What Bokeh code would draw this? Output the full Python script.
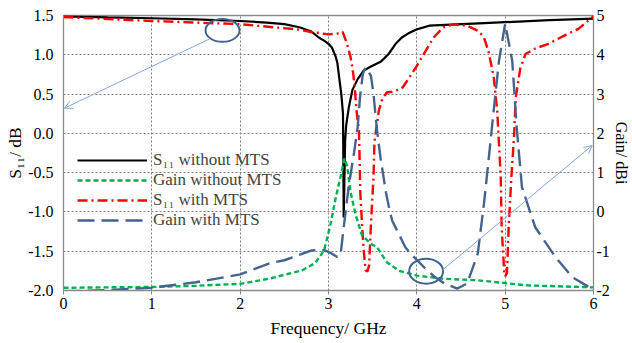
import math
from bokeh.plotting import figure
from bokeh.models import (Range1d, LinearAxis, Legend, LegendItem, Arrow, OpenHead,
                          FixedTicker, PrintfTickFormatter)
from bokeh.embed import file_html
from bokeh.resources import INLINE

# ---------------- data ----------------
x_ticks = [0, 1, 2, 3, 4, 5, 6]
s11_ticks = [-2.0, -1.5, -1.0, -0.5, 0.0, 0.5, 1.0, 1.5]
gain_ticks = [-2, -1, 0, 1, 2, 3, 4, 5]

# S11 without MTS (dB)
s11_no_f = [0, 0.5, 1, 1.5, 2, 2.3, 2.5, 2.67, 2.8, 2.89, 2.95, 3.0, 3.04, 3.08, 3.10,
            3.12, 3.145, 3.164, 3.168, 3.172, 3.18, 3.188, 3.20, 3.23, 3.27, 3.33, 3.40,
            3.48, 3.59, 3.68, 3.76, 3.83, 3.90, 3.99, 4.14, 4.38, 4.7, 5.0, 5.5, 6.0]
s11_no_v = [1.49, 1.475, 1.465, 1.45, 1.43, 1.41, 1.39, 1.35, 1.30, 1.22, 1.18, 1.14, 1.09,
            0.98, 0.90, 0.72, 0.50, 0.25, -0.30, -1.07, -0.60, -0.10, 0.10, 0.33, 0.55, 0.69,
            0.80, 0.85, 0.91, 1.01, 1.14, 1.22, 1.27, 1.32, 1.37, 1.385, 1.40, 1.415, 1.44,
            1.46]

# Gain without MTS (dBi)
gain_no_f = [0, 0.5, 1, 1.5, 2, 2.33, 2.5, 2.7, 2.85, 2.95, 3.02, 3.08, 3.14, 3.18, 3.21,
             3.25, 3.31, 3.38, 3.48, 3.55, 3.66, 3.8, 4.0, 4.3, 4.69, 5.25, 6.0]
gain_no_v = [-1.93, -1.92, -1.91, -1.88, -1.83, -1.70, -1.60, -1.49, -1.30, -0.98, -0.34,
             0.34, 0.93, 1.36, 1.18, 0.50, -0.09, -0.60, -0.81, -0.90, -1.28, -1.50, -1.62,
             -1.70, -1.74, -1.87, -1.92]

# S11 with MTS (dB)
s11_mts_f = [0, 1, 2, 2.67, 2.8, 3.0, 3.1, 3.16, 3.21, 3.25, 3.28, 3.30, 3.31, 3.325, 3.345,
             3.36, 3.38, 3.40, 3.42, 3.44, 3.46, 3.48, 3.51, 3.52, 3.55, 3.57, 3.61, 3.66,
             3.72, 3.83, 3.91, 4.0, 4.1, 4.19, 4.3, 4.40, 4.57, 4.70, 4.76, 4.81, 4.87, 4.91,
             4.93, 4.95, 4.96, 4.99, 5.0, 5.02, 5.04, 5.07, 5.10, 5.12, 5.17, 5.23, 5.34,
             5.49, 5.68, 5.83, 6.0]
s11_mts_v = [1.48, 1.43, 1.39, 1.32, 1.29, 1.26, 1.27, 1.29, 1.14, 0.97, 0.76, 0.55, 0.38,
             0.21, 0.04, -0.75, -1.17, -1.51, -1.74, -1.76, -1.68, -1.17, -0.54, -0.11, 0.13,
             0.29, 0.44, 0.52, 0.53, 0.57, 0.70, 0.86, 1.05, 1.22, 1.35, 1.385, 1.37, 1.30,
             1.22, 1.05, 0.72, 0.29, -0.13, -0.56, -1.19, -1.78, -1.82, -1.78, -1.19, -0.56,
             -0.05, 0.46, 0.82, 1.01, 1.08, 1.14, 1.25, 1.33, 1.49]

# Gain with MTS (dBi)
gain_mts_f = [0, 0.5, 1, 1.5, 2, 2.33, 2.5, 2.81, 2.95, 3.03, 3.10, 3.14, 3.175, 3.23, 3.29,
              3.33, 3.36, 3.39, 3.42, 3.48, 3.51, 3.53, 3.55, 3.59, 3.65, 3.68, 3.72, 3.87,
              3.93, 4.1, 4.2, 4.31, 4.46, 4.57, 4.69, 4.76, 4.80, 4.87, 4.93, 5.0, 5.08, 5.13,
              5.19, 5.34, 5.57, 5.76, 6.0]
gain_mts_v = [-2.02, -1.99, -1.93, -1.79, -1.59, -1.31, -1.23, -0.98, -0.97, -1.05, -1.15,
              -1.02, -0.34, 0.67, 1.52, 2.16, 3.00, 3.52, 3.68, 3.47, 3.00, 2.51, 2.07, 1.36,
              0.50, 0.17, -0.22, -0.90, -1.06, -1.45, -1.65, -1.82, -1.95, -1.82, -1.06, 0.21,
              1.06, 2.58, 3.85, 4.79, 3.85, 2.16, 0.63, -0.39, -1.15, -1.66, -1.98]

# annotation marks (ellipses and arrows), in S11 axis units
ell_x = [1.80, 4.105]
ell_y = [1.31, -1.754]
ell_w = [0.384, 0.384]
ell_h = [0.29, 0.318]
arrow_start = [(1.65, 1.20), (4.29, -1.74)]
arrow_end = [(0.01, 0.32), (5.985, -0.154)]

labels = ["S\u2081\u2081 without MTS", "Gain without MTS", "S\u2081\u2081 with MTS",
          "Gain with MTS"]
x_title = "Frequency/ GHz"
left_title = "S\u2081\u2081/ dB"
right_title = "Gain/ dBi"

# ---------------- figure ----------------
FONT = "Liberation Serif"

p = figure(width=632, height=343, output_backend="svg", toolbar_location=None,
           x_range=Range1d(0, 6), y_range=Range1d(-2, 1.5),
           min_border_left=63, min_border_right=37, min_border_top=15,
           min_border_bottom=53, background_fill_color="white",
           border_fill_color="white", outline_line_color="#8c8c8c",
           outline_line_width=1.3)
p.extra_y_ranges = {"gain": Range1d(-2, 5)}

# grids
p.xgrid.ticker = FixedTicker(ticks=x_ticks)
p.ygrid.ticker = FixedTicker(ticks=s11_ticks)
for g in (p.xgrid, p.ygrid):
    g.grid_line_color = "#7f7f7f"
    g.grid_line_dash = "2 2"
    g.grid_line_width = 1

# axes
def style_axis(ax, label, size="17.5px"):
    ax.axis_label = label
    ax.axis_label_text_font = FONT
    ax.axis_label_text_font_style = "normal"
    ax.axis_label_text_font_size = size
    ax.axis_label_text_color = "black"
    ax.major_label_text_font = FONT
    ax.major_label_text_font_size = "16px"
    ax.major_label_text_color = "black"
    ax.axis_line_color = "#8c8c8c"
    ax.major_tick_line_color = "#8c8c8c"
    ax.major_tick_in = 0
    ax.major_tick_out = 4
    ax.minor_tick_line_color = None
    ax.major_label_standoff = 3
    ax.axis_label_standoff = 4

xa = p.xaxis[0]
style_axis(xa, x_title)
xa.ticker = FixedTicker(ticks=x_ticks)
xa.formatter = PrintfTickFormatter(format="%d")
xa.axis_label_standoff = 6

ya = p.yaxis[0]
style_axis(ya, left_title)
ya.ticker = FixedTicker(ticks=s11_ticks)
ya.formatter = PrintfTickFormatter(format="%.1f")
ya.major_tick_out = 0
ya.major_label_standoff = 10
ya.axis_label_standoff = 0

ra = LinearAxis(y_range_name="gain")
style_axis(ra, right_title, "16px")
ra.ticker = FixedTicker(ticks=gain_ticks)
ra.formatter = PrintfTickFormatter(format="%d")
ra.major_tick_out = 0
ra.major_label_standoff = 3
ra.axis_label_standoff = 0
p.add_layout(ra, "right")

# series
r_s11_no = p.line(s11_no_f, s11_no_v, line_color="black", line_width=2.2)
r_s11_mts = p.line(s11_mts_f, s11_mts_v, line_color="#ff0000", line_width=2.4,
                   line_dash="10 4 2 4")
r_gain_no = p.line(gain_no_f, gain_no_v, line_color="#00b050", line_width=2.4,
                   line_dash="5 3", y_range_name="gain")
r_gain_mts = p.line(gain_mts_f, gain_mts_v, line_color="#44648f", line_width=2.4,
                    line_dash="17 7", y_range_name="gain")

# annotations
p.ellipse(x=ell_x, y=ell_y, width=ell_w, height=ell_h, fill_color=None,
          line_color="#41648f", line_width=2)
for (x0, y0), (x1, y1) in zip(arrow_start, arrow_end):
    p.add_layout(Arrow(end=OpenHead(size=8, line_color="#7fa6dc", line_width=1),
                       x_start=x0, y_start=y0, x_end=x1, y_end=y1,
                       line_color="#7fa6dc", line_width=1))

legend = Legend(items=[LegendItem(label=labels[0], renderers=[r_s11_no]),
                       LegendItem(label=labels[1], renderers=[r_gain_no]),
                       LegendItem(label=labels[2], renderers=[r_s11_mts]),
                       LegendItem(label=labels[3], renderers=[r_gain_mts])],
                location=(14, 60), orientation="vertical",
                glyph_width=70, glyph_height=20, label_height=20, spacing=0,
                padding=0, margin=0, label_standoff=6,
                label_text_font=FONT, label_text_font_size="17px",
                background_fill_alpha=0, border_line_alpha=0)
p.add_layout(legend, "center")

open("out.html", "w").write(file_html(p, INLINE))
